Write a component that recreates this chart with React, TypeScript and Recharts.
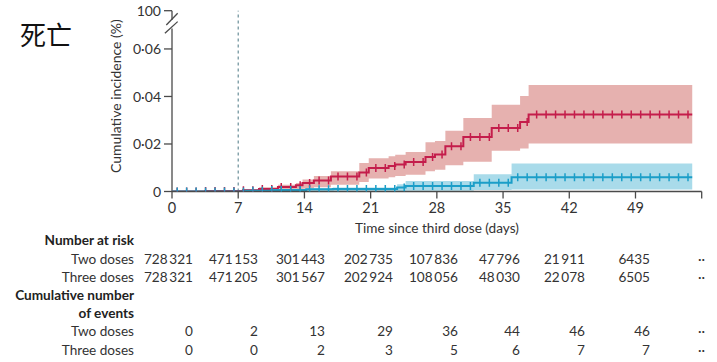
import React from "react";
import {
  ComposedChart,
  Area,
  Line,
  Scatter,
  XAxis,
  YAxis,
  ReferenceLine,
} from "recharts";

// ---------- data ----------
const lastDay = 55;
const redDays = [0, 3.5, 7.5, 9.2, 11.2, 13.1, 13.8, 15, 16.8, 19.8, 20.8, 22.9, 23.6, 24.7, 26.8, 27.8, 28.9, 30.8, 33.8, 36.8, 37.7];
const redValues = [0, 0.0002, 0.0005, 0.0011, 0.0019, 0.0026, 0.0036, 0.0046, 0.0063, 0.008, 0.0099, 0.0107, 0.0114, 0.0124, 0.0145, 0.0156, 0.019, 0.0229, 0.0267, 0.0293, 0.0324];
const redLower = [0, 0, 0, 0.0002, 0.0005, 0.0008, 0.0012, 0.0018, 0.0028, 0.004, 0.0055, 0.006, 0.0065, 0.007, 0.0085, 0.0092, 0.011, 0.0125, 0.0172, 0.0181, 0.0202];
const redUpper = [0, 0.0004, 0.001, 0.0018, 0.0028, 0.0036, 0.005, 0.0065, 0.0085, 0.012, 0.014, 0.0148, 0.0155, 0.0166, 0.0207, 0.0213, 0.0256, 0.0309, 0.0365, 0.0402, 0.0448];

const blueDays = [0, 7.8, 10.5, 14.2, 17, 23.8, 24.7, 31.9, 35.9];
const blueValues = [0, 0.0003, 0.0006, 0.0009, 0.0011, 0.0017, 0.0023, 0.0037, 0.006];
const blueLower = [0, 0, 0, 0, 0.0001, 0.0002, 0.0003, 0.0006, 0.0008];
const blueUpper = [0, 0.0008, 0.0011, 0.0014, 0.0017, 0.003, 0.0044, 0.0073, 0.0118];

const censorDays = [
  0.55, 1.55, 2.55, 3.55, 4.55, 5.55, 6.55, 7.55, 8.55, 9.55,
  10.55, 11.55, 12.55, 13.55, 14.55, 15.55, 16.55, 17.55, 18.55, 19.55,
  20.55, 21.55, 22.55, 23.55, 24.55, 25.55, 26.55, 27.55, 28.55, 29.55,
  30.55, 31.55, 32.55, 33.55, 34.55, 35.55, 36.55, 37.55, 38.55, 39.55,
  40.55, 41.55, 42.55, 43.55, 44.55, 45.55, 46.55, 47.55, 48.55, 49.55,
  50.55, 51.55, 52.55, 53.55, 54.55,
];

const xTicks = [0, 7, 14, 21, 28, 35, 42, 49, 56];
const yTicks = [0, 0.02, 0.04, 0.06, 0.0761];
const yTopLabel = "100";

const riskTwo = [728321, 471153, 301443, 202735, 107836, 47796, 21911, 6435];
const riskThree = [728321, 471205, 301567, 202924, 108056, 48030, 22078, 6505];
const eventsTwo = [0, 2, 13, 29, 36, 44, 46, 46];
const eventsThree = [0, 0, 2, 3, 5, 6, 7, 7];

// ---------- helpers ----------
const stepSeries = (days: number[], vals: number[]) =>
  [...days, lastDay].map((d, i) => ({ x: d, y: vals[Math.min(i, vals.length - 1)] }));
const bandSeries = (days: number[], lo: number[], hi: number[]) =>
  [...days, lastDay].map((d, i) => {
    const j = Math.min(i, lo.length - 1);
    return { x: d, band: [lo[j], hi[j]] };
  });
const stepAt = (days: number[], vals: number[], t: number) => {
  let v = vals[0];
  for (let i = 0; i < days.length; i++) if (days[i] <= t) v = vals[i];
  return v;
};
const censorSeries = (days: number[], vals: number[]) =>
  censorDays.map((d) => ({ x: d, y: stepAt(days, vals, d) }));

const redLine = stepSeries(redDays, redValues);
const redBand = bandSeries(redDays, redLower, redUpper);
const blueLine = stepSeries(blueDays, blueValues);
const blueBand = bandSeries(blueDays, blueLower, blueUpper);
const redCensor = censorSeries(redDays, redValues);
const blueCensor = censorSeries(blueDays, blueValues);

const fmt = (n: number) => {
  const s = String(n);
  return n >= 10000 ? s.slice(0, s.length - 3) + "\u2009" + s.slice(s.length - 3) : s;
};

// ---------- style ----------
const FONT = "Lato, 'Open Sans', sans-serif";
const TXT = "#333333";
const AXIS = "#4a4a4a";
const RED = "#c41d4b";
const RED_BAND = "#e6b1af";
const BLUE = "#1b9ec8";
const BLUE_BAND = "#a9dbea";
const TABLE_FS = 13.6;

const W = 717;
const H = 362;

const mark = (color: string) => (p: any) =>
  (
    <line
      x1={p.cx}
      x2={p.cx}
      y1={p.cy - 4}
      y2={p.cy + 4}
      stroke={color}
      strokeWidth={1.5}
    />
  );

const XTick = (p: any) => {
  const v = p.payload.value;
  return (
    <text x={p.x} y={p.y + 12} textAnchor="middle" fill={TXT} fontSize={14.5} fontFamily={FONT}>
      {v === 56 ? "" : String(v)}
    </text>
  );
};

const YTick = (p: any) => {
  const v = p.payload.value;
  const label = v > 0.07 ? yTopLabel : v === 0 ? "0" : v.toFixed(2).replace(".", "\u00b7");
  return (
    <text x={p.x} y={p.y} dy="0.36em" textAnchor="end" fill={TXT} fontSize={14} fontFamily={FONT}>
      {label}
    </text>
  );
};

const colRight = [193, 258, 325, 393, 458, 520, 585, 650];
const dotsRight = 705;
const labelRight = 134;

export default function App() {
  const rowText = (
    y: number,
    label: string,
    vals: string[] | null,
    bold = false
  ) => (
    <g>
      <text
        x={labelRight}
        y={y}
        textAnchor="end"
        fontSize={TABLE_FS}
        fontWeight={bold ? 700 : 400}
        fill={bold ? "#222" : TXT}
        fontFamily={FONT}
      >
        {label}
      </text>
      {vals &&
        vals.map((v, i) => (
          <text key={i} x={colRight[i]} y={y} textAnchor="end" fontSize={TABLE_FS} fill={TXT} fontFamily={FONT}>
            {v}
          </text>
        ))}
      {vals && (
        <text x={dotsRight} y={y} textAnchor="end" fontSize={TABLE_FS} fill={TXT} fontFamily={FONT}>
          ··
        </text>
      )}
    </g>
  );

  return (
    <div style={{ position: "absolute", left: 0, top: 0, width: W, height: H, background: "#fff" }}>
      <ComposedChart
        width={W}
        height={H}
        margin={{ top: 10.7, right: 15.3, bottom: 140.5, left: 0 }}
      >
        <XAxis
          dataKey="x"
          type="number"
          domain={[0, 56]}
          ticks={xTicks}
          allowDataOverflow
          interval={0}
          height={30}
          tick={<XTick />}
          tickSize={7}
          axisLine={{ stroke: AXIS, strokeWidth: 1.3 }}
          tickLine={{ stroke: AXIS, strokeWidth: 1.3 }}
        />
        <YAxis
          type="number"
          domain={[0, 0.0761]}
          ticks={yTicks}
          allowDataOverflow
          interval={0}
          width={172}
          tick={<YTick />}
          tickSize={8}
          tickMargin={3}
          axisLine={false}
          tickLine={{ stroke: AXIS, strokeWidth: 1.3 }}
          label={{
            content: (props: any) => {
              const vb = props.viewBox || { x: 0, y: 0, width: 0, height: 0 };
              const cx = 116;
              const cy = vb.y + vb.height / 2 - 5;
              return (
                <text
                  x={cx}
                  y={cy}
                  transform={`rotate(-90 ${cx} ${cy})`}
                  textAnchor="middle"
                  dominantBaseline="central"
                  fontSize={14}
                  fill={TXT}
                  fontFamily={FONT}
                >
                  Cumulative incidence (%)
                </text>
              );
            },
          }}
        />

        <Area
          data={redBand}
          dataKey="band"
          type="stepAfter"
          stroke="none"
          fill={RED_BAND}
          fillOpacity={1}
          isAnimationActive={false}
        />
        <Area
          data={blueBand}
          dataKey="band"
          type="stepAfter"
          stroke="none"
          fill={BLUE_BAND}
          fillOpacity={1}
          isAnimationActive={false}
        />

        <ReferenceLine x={7} stroke="#6a8f99" strokeWidth={1.2} strokeDasharray="3 3" />

        {/* y axis with break */}
        <ReferenceLine
          segment={[{ x: 0, y: 0 }, { x: 0, y: 0.0686 }]}
          stroke={AXIS}
          strokeWidth={1.3}
          ifOverflow="visible"
        />
        <ReferenceLine
          segment={[{ x: 0, y: 0.0723 }, { x: 0, y: 0.0761 }]}
          stroke={AXIS}
          strokeWidth={1.3}
          ifOverflow="visible"
        />
        <ReferenceLine
          segment={[{ x: -0.6, y: 0.0701 }, { x: 0.6, y: 0.075 }]}
          stroke={AXIS}
          strokeWidth={1.3}
          ifOverflow="visible"
        />
        <ReferenceLine
          segment={[{ x: -0.75, y: 0.0666 }, { x: 0.6, y: 0.0715 }]}
          stroke={AXIS}
          strokeWidth={1.3}
          ifOverflow="visible"
        />

        <Line
          data={redLine}
          dataKey="y"
          type="stepAfter"
          stroke={RED}
          strokeWidth={2}
          dot={false}
          activeDot={false}
          isAnimationActive={false}
        />
        <Scatter data={redCensor} dataKey="y" shape={mark(RED)} isAnimationActive={false} />
        <Line
          data={blueLine}
          dataKey="y"
          type="stepAfter"
          stroke={BLUE}
          strokeWidth={2}
          dot={false}
          activeDot={false}
          isAnimationActive={false}
        />
        <Scatter data={blueCensor} dataKey="y" shape={mark(BLUE)} isAnimationActive={false} />
      </ComposedChart>

      <svg
        width={W}
        height={H}
        style={{ position: "absolute", left: 0, top: 0, pointerEvents: "none" }}
      >
        <text x={20} y={45} fontSize={26} fill="#111" fontFamily="'Noto Sans CJK SC', sans-serif">
          死亡
        </text>
        <text x={437} y={233} textAnchor="middle" fontSize={13.6} fill={TXT} fontFamily={FONT}>
          Time since third dose (days)
        </text>
        {rowText(245, "Number at risk", null, true)}
        {rowText(263.5, "Two doses", riskTwo.map(fmt))}
        {rowText(282, "Three doses", riskThree.map(fmt))}
        {rowText(300, "Cumulative number", null, true)}
        {rowText(317.5, "of events", null, true)}
        {rowText(336, "Two doses", eventsTwo.map(String))}
        {rowText(354.5, "Three doses", eventsThree.map(String))}
      </svg>
    </div>
  );
}
